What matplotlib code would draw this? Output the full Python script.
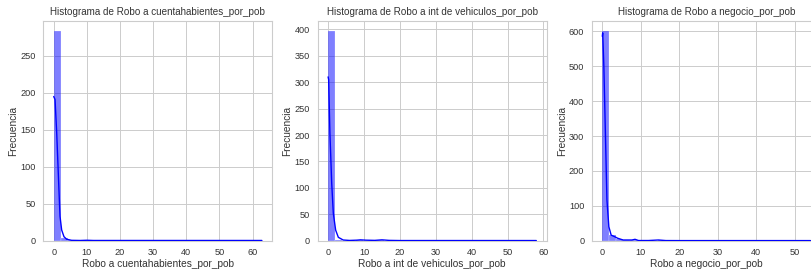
import numpy as np
import matplotlib
matplotlib.use("Agg")
import matplotlib.pyplot as plt
import seaborn as sns

#%% Data
columns = ["Robo a cuentahabientes_por_pob",
           "Robo a int de vehiculos_por_pob",
           "Robo a negocio_por_pob"]

# data range of each column (30 bins between min and max)
range_cuenta = (0.0, 62.8)
range_vehic = (0.0, 58.0)
range_negocio = (0.0, 54.1)

counts_cuenta = [283, 3, 1, 0, 1, 0, 0, 0, 0, 0, 0, 0, 0, 0, 0,
                 0, 0, 0, 0, 0, 0, 0, 0, 0, 0, 0, 0, 0, 0, 1]
counts_vehic = [396, 2, 0, 0, 1, 0, 0, 1, 0, 0, 0, 0, 0, 0, 0,
                0, 0, 0, 0, 0, 0, 0, 0, 0, 0, 0, 0, 0, 0, 1]
counts_negocio = [600, 15, 4, 1, 2, 0, 0, 0, 1, 0, 0, 0, 0, 0, 0,
                  0, 0, 0, 0, 0, 0, 0, 0, 0, 0, 0, 0, 0, 0, 1]

# kde curves (scaled to counts)
kde_x_cuenta = [0, 0.4, 0.9, 1.5, 1.9, 2.4, 3.1, 3.9, 5.4, 8, 10, 12, 20, 40, 62.8]
kde_y_cuenta = [195, 191, 146, 78, 33, 14.5, 5.4, 2, 0.5, 0.3, 0.6, 0.3, 0.3, 0.3, 0.3]

kde_x_vehic = [0, 0.15, 0.5, 1.0, 1.45, 2.1, 2.85, 4.2, 6, 8, 9, 10.5, 13, 15, 17, 20, 40, 58]
kde_y_vehic = [310, 305, 204, 109, 52, 20, 6.4, 1.3, 0.5, 1.0, 1.6, 1.0, 0.6, 1.6, 0.6, 0.3, 0.3, 0.3]

kde_x_negocio = [0, 0.1, 0.4, 0.8, 1.2, 1.7, 2.3, 3.2, 4.0, 5.4, 7.7, 8.5, 9.4,
                 12, 14.6, 16.5, 20, 40, 54.1]
kde_y_negocio = [586, 596, 500, 309, 117, 40, 16, 11.5, 7, 2, 2, 4, 0.5,
                 0.5, 2, 0.4, 0.3, 0.3, 0.3]

ranges = [range_cuenta, range_vehic, range_negocio]
counts = [counts_cuenta, counts_vehic, counts_negocio]
kde_xs = [kde_x_cuenta, kde_x_vehic, kde_x_negocio]
kde_ys = [kde_y_cuenta, kde_y_vehic, kde_y_negocio]

#%% Plot
sns.set_style("whitegrid")
plt.rcParams['font.family'] = ['Liberation Sans', 'DejaVu Sans']

W, H = 811, 274
fig = plt.figure(figsize=(W / 100, H / 100), dpi=100)

ax_left = [43.3, 317.7, 591.9]
ax_w = 229
ax_top = 21
ax_bottom = 240.7

for i in range(3):
    ax = fig.add_axes([ax_left[i] / W, (H - ax_bottom) / H, ax_w / W, (ax_bottom - ax_top) / H])
    lo, hi = ranges[i]
    edges = np.linspace(lo, hi, len(counts[i]) + 1)
    ax.bar(edges[:-1], counts[i], width=np.diff(edges), align='edge',
           color='blue', alpha=0.5, edgecolor='white', linewidth=0.3, zorder=2)
    ax.plot(kde_xs[i], kde_ys[i], color='blue', lw=1.0, zorder=3)

    span = hi - lo
    ax.set_xlim(lo - 0.05 * span, hi + 0.05 * span)
    ax.set_ylim(0, max(counts[i]) * 1.05)

    ax.set_title('Histograma de ' + columns[i], fontsize=7.1, color='0.2', pad=4)
    ax.set_xlabel(columns[i], fontsize=7.3, color='0.2', labelpad=1)
    ax.set_ylabel('Frecuencia', fontsize=7.3, color='0.2', labelpad=1.5)
    ax.tick_params(labelsize=6.6, colors='0.2', pad=2)
    ax.set_axisbelow(True)
    ax.grid(color='0.8', lw=0.7)
    for s in ax.spines.values():
        s.set_color('0.8')
        s.set_linewidth(0.8)

fig.savefig('out.png', dpi=100)
